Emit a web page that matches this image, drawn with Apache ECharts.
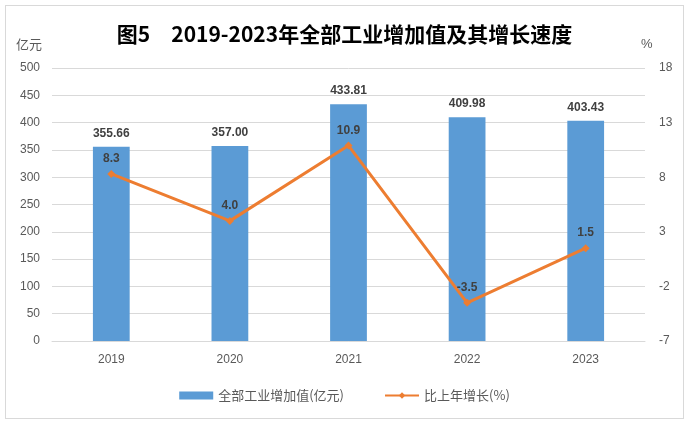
<!DOCTYPE html>
<html><head><meta charset="utf-8">
<script src="https://cdn.jsdelivr.net/npm/echarts@6/dist/echarts.min.js"></script>
<style>html,body{margin:0;padding:0;background:#fff;}#frame{position:absolute;left:5px;top:5px;width:677px;height:412px;border:1px solid #d9d9d9;}#c{width:689px;height:424px;}</style>
</head><body>
<div id="frame"></div>
<div id="c"></div>
<script>
const years = ['2019','2020','2021','2022','2023'];
const addedValue = [355.66, 357.00, 433.81, 409.98, 403.43];
const growth = [8.3, 4.0, 10.9, -3.5, 1.5];
const leftTicks = [0, 500, 50];
const rightTicks = [-7, 18, 5];

const chart = echarts.init(document.getElementById('c'), null, {renderer:'canvas'});
const axisText = {color:'#595959', fontSize:12, fontFamily:'"Liberation Sans", Arial, sans-serif'};
chart.setOption({
  backgroundColor:'transparent',
  animation:false,
  title:{text:'图5　2019-2023年全部工业增加值及其增长速度', left:'center', top:19,
    textStyle:{fontSize:21, fontWeight:'bold', color:'#000', fontFamily:'"Noto Sans CJK SC", sans-serif'}},
  grid:{left:52, right:44, top:68, bottom:83},
  legend:{bottom:17, itemGap:40, itemWidth:34, itemHeight:8,
    textStyle:{color:'#595959', fontSize:13, fontFamily:'"Noto Sans CJK SC", sans-serif'},
    data:[{name:'全部工业增加值(亿元)', icon:'rect'}, {name:'比上年增长(%)'}]},
  xAxis:{type:'category', data:years,
    axisLine:{lineStyle:{color:'#d9d9d9'}}, axisTick:{show:false},
    axisLabel:Object.assign({margin:13}, axisText)},
  yAxis:[
    {type:'value', min:leftTicks[0], max:leftTicks[1], interval:leftTicks[2],
     name:'亿元', nameLocation:'end', nameGap:17, nameTextStyle:{color:'#595959', fontSize:13, align:'right', padding:[0,10,0,0], fontFamily:'"Noto Sans CJK SC", sans-serif'},
     axisLine:{show:false}, axisTick:{show:false},
     splitLine:{lineStyle:{color:'#d9d9d9'}}, axisLabel:Object.assign({margin:12}, axisText)},
    {type:'value', min:rightTicks[0], max:rightTicks[1], interval:rightTicks[2],
     name:'%', nameLocation:'end', nameGap:17, nameTextStyle:{color:'#595959', fontSize:13, align:'left', padding:[0,0,0,-4]},
     axisLine:{show:false}, axisTick:{show:false}, splitLine:{show:false},
     axisLabel:Object.assign({margin:14}, axisText)}
  ],
  series:[
    {name:'全部工业增加值(亿元)', type:'bar', data:addedValue, barWidth:'31%',
     itemStyle:{color:'#5b9bd5'},
     label:{show:true, position:'top', distance:7, fontWeight:'bold', fontSize:12, color:'#404040',
       fontFamily:'"Liberation Sans", Arial, sans-serif', formatter:p=>p.value.toFixed(2)}},
    {name:'比上年增长(%)', type:'line', yAxisIndex:1, data:growth,
     symbol:'diamond', symbolSize:8, lineStyle:{color:'#ed7d31', width:3},
     itemStyle:{color:'#ed7d31'},
     label:{show:true, position:'top', distance:5, fontWeight:'bold', fontSize:12, color:'#404040',
       fontFamily:'"Liberation Sans", Arial, sans-serif', formatter:p=>p.value.toFixed(1)}}
  ]
});
</script>
</body></html>
